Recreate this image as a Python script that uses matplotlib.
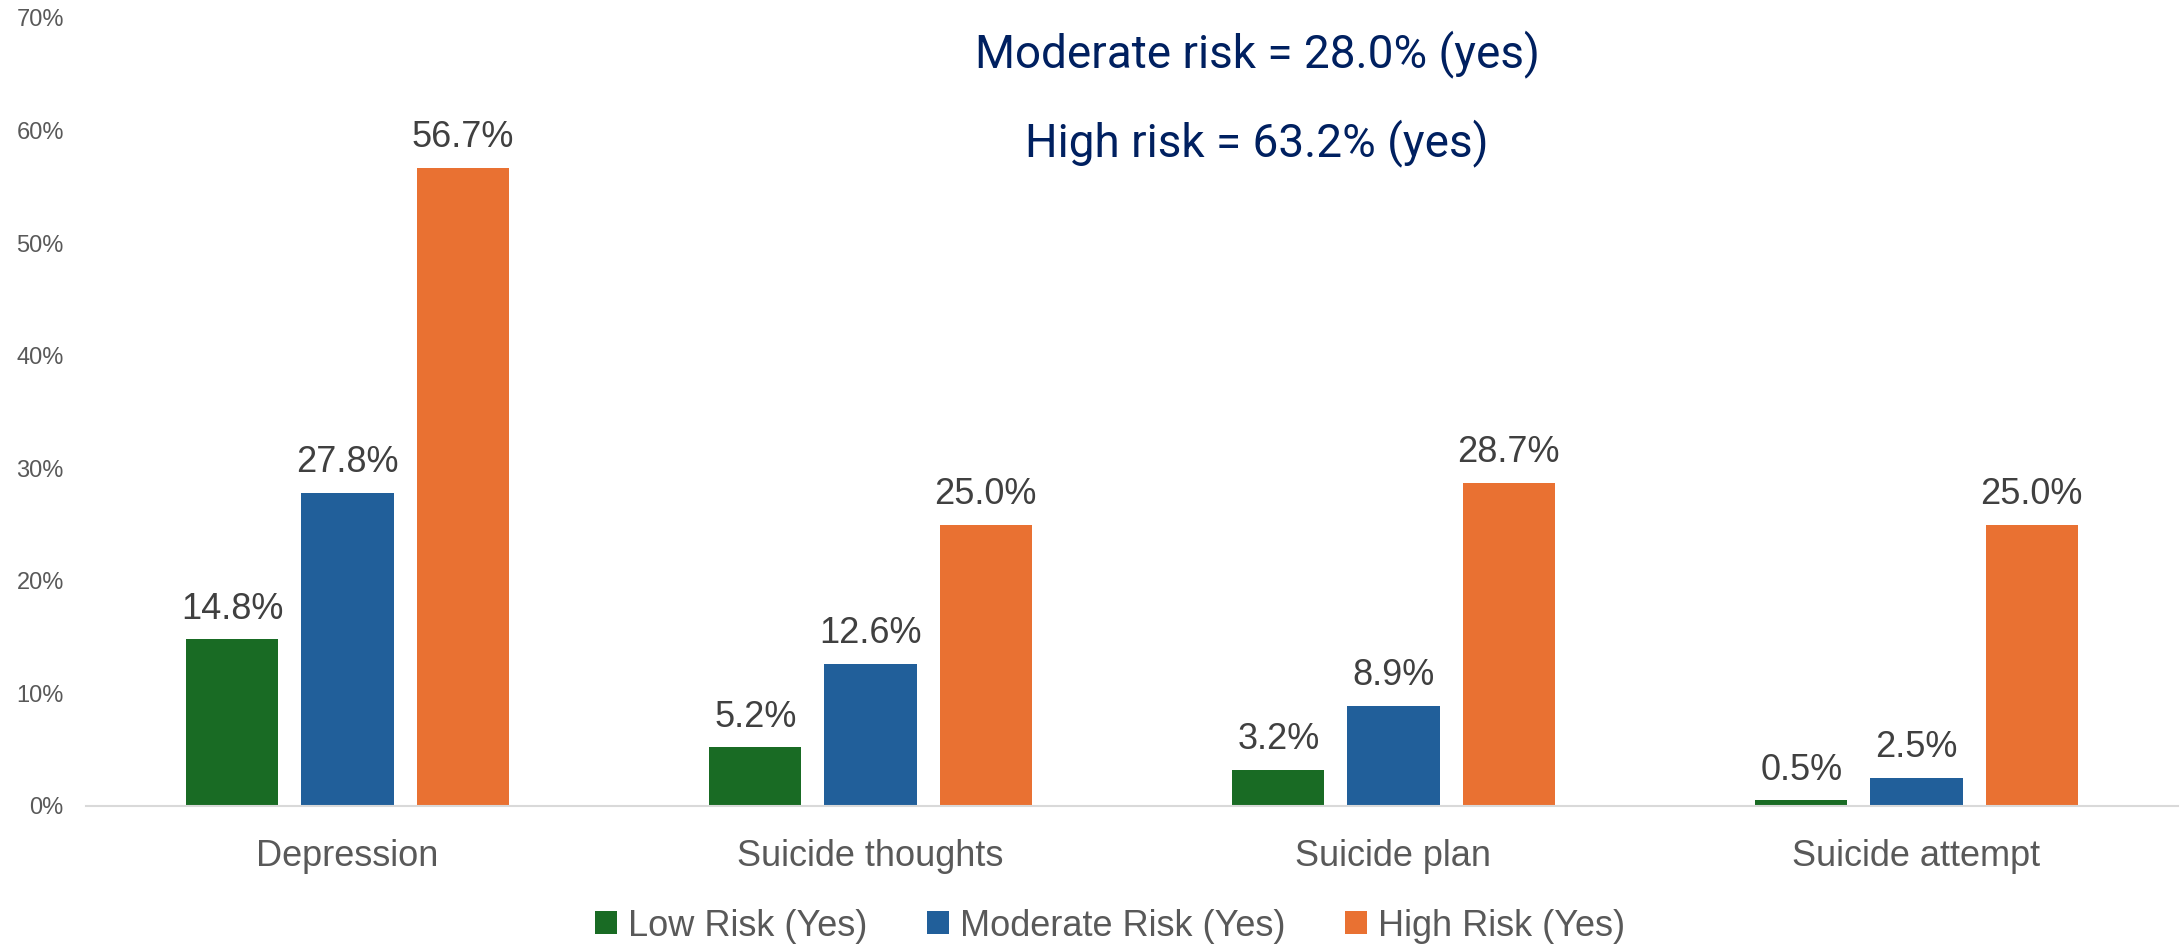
import numpy as np
import matplotlib
matplotlib.use('Agg')
import matplotlib.pyplot as plt
from matplotlib.patches import Patch

categories = ["Depression", "Suicide thoughts", "Suicide plan", "Suicide attempt"]
series_names = ["Low Risk (Yes)", "Moderate Risk (Yes)", "High Risk (Yes)"]
low_risk = [14.8, 5.2, 3.2, 0.5]
moderate_risk = [27.8, 12.6, 8.9, 2.5]
high_risk = [56.7, 25.0, 28.7, 25.0]
y_ticks = [0, 10, 20, 30, 40, 50, 60, 70]
notes = ["Moderate risk = 28.0% (yes)", "High risk = 63.2% (yes)"]

colors = ["#196B24", "#215F9A", "#E97132"]
plt.rcParams['font.family'] = ['Liberation Sans', 'DejaVu Sans']

fig = plt.figure(figsize=(21.83, 9.46), dpi=100)
ax = fig.add_axes([0.0394, 0.148, 0.9583, 0.833])

x = np.arange(len(categories))
width = 0.176
step = 0.22
for i, (vals, col) in enumerate(zip([low_risk, moderate_risk, high_risk], colors)):
    pos = x + (i - 1) * step
    ax.bar(pos, vals, width=width, color=col, zorder=2)
    for px, v in zip(pos, vals):
        ax.annotate(f"{v:.1f}%", (px, v), xytext=(0, 15), textcoords="offset points",
                    ha="center", va="baseline", fontsize=26, color="#404040")

ax.set_xlim(-0.5, len(categories) - 0.5)
ax.set_ylim(0, 70)
ax.set_yticks(y_ticks)
ax.set_yticklabels([f"{t}%" for t in y_ticks], fontsize=17, color="#595959")
ax.set_xticks(x)
ax.set_xticklabels(categories, fontsize=26, color="#595959")
ax.tick_params(axis="both", length=0)
ax.tick_params(axis="y", pad=16)
ax.tick_params(axis="x", pad=24)
for side in ["top", "right", "left"]:
    ax.spines[side].set_visible(False)
ax.spines["bottom"].set_color("#D9D9D9")
ax.spines["bottom"].set_linewidth(1.5)

# summary text at the top
fig.text(0.5758, 0.9292, notes[0], ha="center", va="baseline", fontsize=33,
         color="#002060", family="Roboto")
fig.text(0.5758, 0.8351, notes[1], ha="center", va="baseline", fontsize=33,
         color="#002060", family="Roboto")

handles = [Patch(facecolor=c, label=n) for c, n in zip(colors, series_names)]
leg = fig.legend(handles=handles, loc="center", bbox_to_anchor=(0.5085, 0.021), ncol=3,
                 frameon=False, fontsize=26, handlelength=0.6, handleheight=0.6,
                 handletextpad=0.31, columnspacing=1.65, labelcolor="#595959")

fig.savefig("out.png", dpi=100)
